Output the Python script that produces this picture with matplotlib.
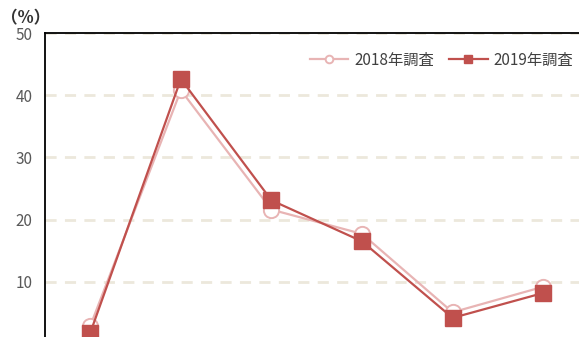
import matplotlib
matplotlib.use('Agg')
import matplotlib.pyplot as plt
import numpy as np

plt.rcParams['font.family'] = ['Noto Sans CJK JP', 'DejaVu Sans']

categories = ['A', 'B', 'C', 'D', 'E', 'F']
survey_2018 = [2.9, 40.8, 21.6, 17.7, 5.1, 9.2]
survey_2019 = [1.8, 42.6, 23.1, 16.5, 4.2, 8.2]
yticks = [10, 20, 30, 40, 50]

W, H = 579, 337
fig = plt.figure(figsize=(W / 100, H / 100), dpi=100)
# axes runs past the bottom and right edge of the figure (cropped chart)
left, right, top, bottom = 45, 588.5, 33, 344
ax = fig.add_axes([left / W, (H - bottom) / H, (right - left) / W, (bottom - top) / H])

x = np.arange(len(categories))
ax.plot(x, survey_2018, color='#e8b4b4', lw=1.6, marker='o', ms=11,
        mfc='white', mec='#e8b4b4', mew=1.4, label='2018年調査', zorder=3)
ax.plot(x, survey_2019, color='#c0504d', lw=1.6, marker='s', ms=11,
        mfc='#c0504d', mec='#c0504d', label='2019年調査', zorder=4)

ax.set_xlim(-0.5, len(categories) - 0.5)
ax.set_ylim(0, 50)
ax.set_yticks(yticks)
ax.set_xticks([])
ax.yaxis.grid(True, color='#ece8dc', lw=2, ls=(0, (4, 3)))
ax.set_axisbelow(True)
ax.tick_params(axis='y', length=0, pad=9, labelsize=11, labelcolor='#595959')
for s in ['top', 'left']:
    ax.spines[s].set_color('black')
    ax.spines[s].set_linewidth(1.3)
ax.spines['right'].set_visible(False)
ax.spines['bottom'].set_visible(False)

fig.text(1 / W, 1 - 18 / H, '（%）', fontsize=12, fontweight='bold',
         color='#333333', va='center', ha='left')

ax.legend(loc='center right', bbox_to_anchor=(587 / W, 1 - 60 / H),
          bbox_transform=fig.transFigure, ncol=2, frameon=False,
          fontsize=11, labelcolor='#404040', markerscale=0.5,
          handlelength=2.5, columnspacing=1.0, handletextpad=0.4)

fig.savefig('out.png', dpi=100)
